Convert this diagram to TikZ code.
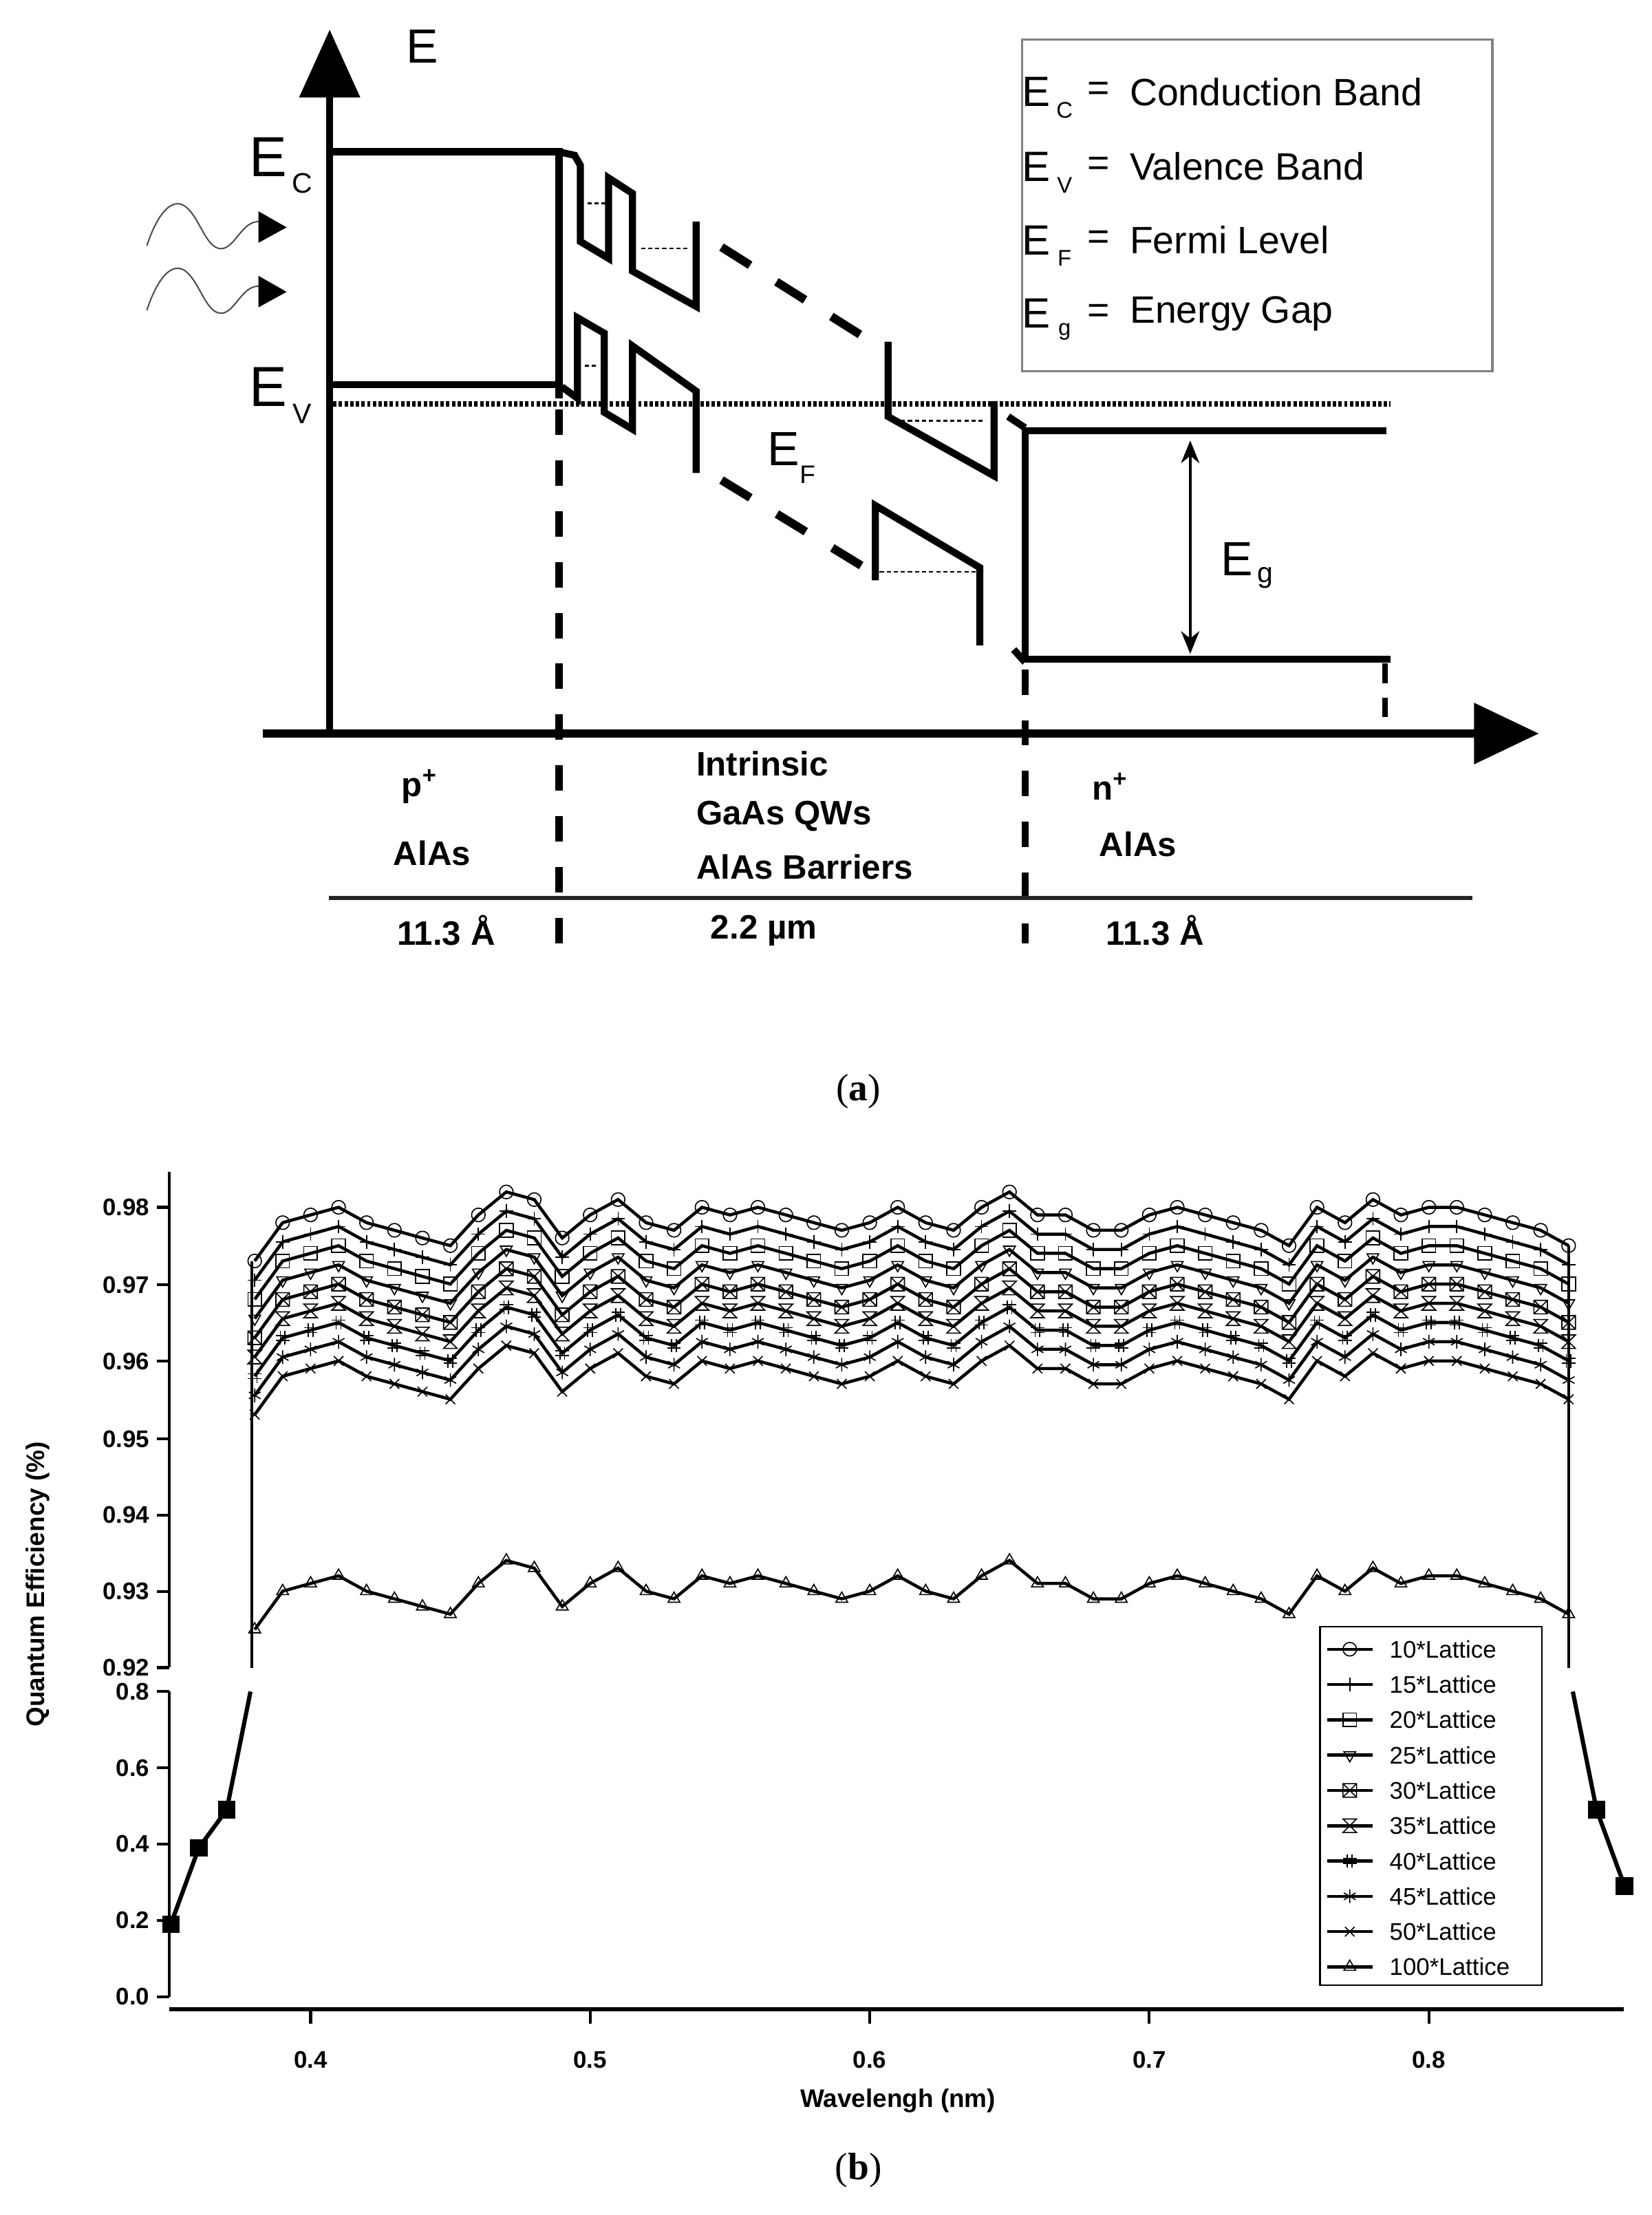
\documentclass[tikz,border=0pt]{standalone}
\usepackage{fontspec}
\setmainfont{Liberation Sans}
\newfontfamily\serifb{Liberation Serif}
\usetikzlibrary{plotmarks,arrows.meta}
\newcommand\fsz[1]{\fontsize{#1}{#1}\selectfont}
\pgfdeclareplotmark{boxx}{%
  \pgfpathrectangle{\pgfpoint{-\pgfplotmarksize}{-\pgfplotmarksize}}{\pgfpoint{2\pgfplotmarksize}{2\pgfplotmarksize}}%
  \pgfpathmoveto{\pgfpoint{-\pgfplotmarksize}{-\pgfplotmarksize}}\pgfpathlineto{\pgfpoint{\pgfplotmarksize}{\pgfplotmarksize}}%
  \pgfpathmoveto{\pgfpoint{-\pgfplotmarksize}{\pgfplotmarksize}}\pgfpathlineto{\pgfpoint{\pgfplotmarksize}{-\pgfplotmarksize}}%
  \pgfusepathqstroke}
\pgfdeclareplotmark{hglass}{%
  \pgfpathmoveto{\pgfpoint{-\pgfplotmarksize}{\pgfplotmarksize}}\pgfpathlineto{\pgfpoint{\pgfplotmarksize}{\pgfplotmarksize}}%
  \pgfpathlineto{\pgfpoint{-\pgfplotmarksize}{-\pgfplotmarksize}}\pgfpathlineto{\pgfpoint{\pgfplotmarksize}{-\pgfplotmarksize}}\pgfpathclose
  \pgfusepathqstroke}
\pgfdeclareplotmark{hashm}{%
  \pgfpathmoveto{\pgfpoint{-0.35\pgfplotmarksize}{-\pgfplotmarksize}}\pgfpathlineto{\pgfpoint{-0.35\pgfplotmarksize}{\pgfplotmarksize}}%
  \pgfpathmoveto{\pgfpoint{0.35\pgfplotmarksize}{-\pgfplotmarksize}}\pgfpathlineto{\pgfpoint{0.35\pgfplotmarksize}{\pgfplotmarksize}}%
  \pgfpathmoveto{\pgfpoint{-\pgfplotmarksize}{-0.35\pgfplotmarksize}}\pgfpathlineto{\pgfpoint{\pgfplotmarksize}{-0.35\pgfplotmarksize}}%
  \pgfpathmoveto{\pgfpoint{-\pgfplotmarksize}{0.35\pgfplotmarksize}}\pgfpathlineto{\pgfpoint{\pgfplotmarksize}{0.35\pgfplotmarksize}}%
  \pgfusepathqstroke}
\newcommand\qecurve[2]{\begin{scope}[yshift=#2]\draw[curve,#1] plot coordinates {(0.38,0.973) (0.39,0.978) (0.40,0.979) (0.41,0.980) (0.42,0.978) (0.43,0.977) (0.44,0.976) (0.45,0.975) (0.46,0.979) (0.47,0.982) (0.48,0.981) (0.49,0.976) (0.50,0.979) (0.51,0.981) (0.52,0.978) (0.53,0.977) (0.54,0.980) (0.55,0.979) (0.56,0.980) (0.57,0.979) (0.58,0.978) (0.59,0.977) (0.60,0.978) (0.61,0.980) (0.62,0.978) (0.63,0.977) (0.64,0.980) (0.65,0.982) (0.66,0.979) (0.67,0.979) (0.68,0.977) (0.69,0.977) (0.70,0.979) (0.71,0.980) (0.72,0.979) (0.73,0.978) (0.74,0.977) (0.75,0.975) (0.76,0.980) (0.77,0.978) (0.78,0.981) (0.79,0.979) (0.80,0.980) (0.81,0.980) (0.82,0.979) (0.83,0.978) (0.84,0.977) (0.85,0.975)};\end{scope}}
\newcommand\legrow[3]{\draw[line width=2.2pt] (940,1168+25*#1) -- (972,1168+25*#1);
  \path[curve,#2] plot coordinates {(956,1168+25*#1)};
  \node[ent] at (984,1168+25*#1) {#3};}
\begin{document}
\begin{tikzpicture}[x=1pt,y=-1pt,
  band/.style={line width=5pt,line join=miter},
  dashb/.style={line width=6pt,dash pattern=on 24pt off 22pt},
  dvert/.style={line width=5pt,dash pattern=on 18pt off 18pt},
  thind/.style={line width=1.2pt,dash pattern=on 3pt off 2pt},
  lbl/.style={font=\fsz{24}\bfseries,inner sep=0pt},
  leg/.style={font=\fsz{27},inner sep=0pt,anchor=west},
  curve/.style={line width=2.2pt,mark size=4.8pt},
  mk/.style={mark options={solid,line width=0.8pt,#1}},
  tk/.style={font=\fsz{17}\bfseries,inner sep=0pt},
  ent/.style={font=\fsz{17},inner sep=0pt,anchor=west}]
\useasboundingbox (0,0) rectangle (1170,1568.7);
% ---------------- (a) ----------------
\coordinate (eb) at (233.5,522); \coordinate (et) at (233.5,21);
\draw[line width=5pt,-{Triangle[length=48pt,width=42pt]}] (eb) -- (et);
\coordinate (xb) at (186,519.5); \coordinate (xt) at (1090,519.5);
\draw[line width=6pt,-{Triangle[length=46pt,width=42pt]}] (xb) -- (xt);
\node[font=\fsz{34},inner sep=0pt] (Elab) at (299,33) {E};
\node[font=\fsz{40},inner sep=0pt] (Ec) at (190,111) {E};
\node[font=\fsz{20},inner sep=0pt] (Ecs) at (214,130) {C};
\node[font=\fsz{40},inner sep=0pt] (Ev) at (190,274) {E};
\node[font=\fsz{20},inner sep=0pt] (Evs) at (214,293) {V};
% photons
\draw[gray!60!black,line width=1pt] (104,174) .. controls (112,150) and (122,140) .. (131,146) .. controls (142,154) and (146,178) .. (158,176) .. controls (167,174) and (172,156) .. (184,157);
\fill (183,149.6) -- (203,161) -- (183,172) -- cycle;
\begin{scope}[yshift=-45.7pt]
\draw[gray!60!black,line width=1pt] (104,174) .. controls (112,150) and (122,140) .. (131,146) .. controls (142,154) and (146,178) .. (158,176) .. controls (167,174) and (172,156) .. (184,157);
\fill (183,149.6) -- (203,161) -- (183,172) -- cycle;
\end{scope}
% p region
\draw[band] (233,107.5) -- (396,107.5) -- (396,282);
\draw[band] (233,272.5) -- (396,272.5);
% conduction QWs
\draw[band] (398,108) -- (407,110) -- (411,117) -- (411,171) -- (431,183) -- (431,126) -- (448,137) -- (448,192) -- (493,217) -- (493,157);
\draw[thind] (416,144) -- (433,144);
\draw[thind] (454,176) -- (489,176);
\draw[dashb] (511,175) -- (614,240);
\draw[band] (629,242) -- (629,295) -- (704,337) -- (704,284);
\draw[thind] (633,298) -- (698,298);
\draw[band] (714,295) -- (726,303);
\draw[band] (726,305) -- (982,305);
\draw[band] (726,303) -- (726,469);
\draw[band] (726,467) -- (985,467);
\draw[band] (718,460) -- (726,469);
% valence QWs
\draw[band] (398,274) -- (409,282) -- (409,225) -- (428,236) -- (428,292) -- (448,304) -- (448,245) -- (493,277) -- (493,335);
\draw[thind] (414,259) -- (424,259);
\draw[dashb] (511,340) -- (614,403);
\draw[band] (620,411) -- (620,358) -- (694,402) -- (694,457);
\draw[thind] (623,405) -- (692,405);
% Fermi level
\draw[line width=4pt,dash pattern=on 2.4pt off 1.6pt] (236,286) -- (985,286);
\node[font=\fsz{34},inner sep=0pt] (Ef) at (555,318) {E};
\node[font=\fsz{18},inner sep=0pt] (Efs) at (572,336) {F};
% Eg
\coordinate (g1) at (843,312); \coordinate (g2) at (843,463);
\draw[line width=2pt,{Stealth[length=16pt,width=13pt]}-{Stealth[length=16pt,width=13pt]}] (g1) -- (g2);
\node[font=\fsz{34},inner sep=0pt] (Eg) at (876,396) {E};
\node[font=\fsz{20},inner sep=0pt] (Egs) at (896,409) {g};
% dashed verticals
\draw[dvert] (396,290) -- (396,670);
\draw[dvert] (726,474) -- (726,668);
\draw[line width=4pt,dash pattern=on 14pt off 10pt] (981,470) -- (981,521);
% bottom line and labels
\draw[line width=3pt,black!85] (233,636) -- (1043,636);
\node[lbl] (p) at (297,557) {p\textsuperscript{+}};
\node[lbl] (al1) at (306,604) {AlAs};
\node[lbl,anchor=west] (in1) at (493,541) {Intrinsic};
\node[lbl,anchor=west] (in2) at (493,578) {GaAs QWs};
\node[lbl,anchor=west] (in3) at (493,614) {AlAs Barriers};
\node[lbl] (n) at (786,557) {n\textsuperscript{+}};
\node[lbl] (al2) at (806,598) {AlAs};
\node[lbl] (t1) at (316,659) {11.3 Å};
\node[lbl] (t2) at (541,659) {2.2 µm};
\node[lbl] (t3) at (818,659) {11.3 Å};
% legend box
\draw[gray,line width=1.5pt] (724,28) rectangle (1057,263);
\foreach \yy/\s/\t in {65/C/Conduction Band,118/V/Valence Band,170/F/Fermi Level,222/g/Energy Gap}{
  \node[font=\fsz{30},inner sep=0pt] at (734,\yy) {E};
  \node[font=\fsz{16},inner sep=0pt] at (754,\yy+13) {\s};
  \node[font=\fsz{27},inner sep=0pt] at (778,\yy) {=};
  \node[leg] at (800,\yy) {\t};
}
\node[font=\serifb\fsz{27},inner sep=0pt] (la) at (608,773) {(\textbf{a})};
% ---------------- (b) ----------------
\draw[line width=2pt] (120,830) -- (120,1181);
\foreach \v/\yy in {0.98/855,0.97/910,0.96/964,0.95/1019,0.94/1073,0.93/1127,0.92/1181}{
  \draw[line width=2pt] (111,\yy) -- (120,\yy);
  \node[tk,anchor=east] at (106,\yy) {\v};
}
\draw[line width=2pt] (120,1198) -- (120,1414);
\foreach \v/\yy in {0.8/1198,0.6/1252,0.4/1306,0.2/1360,0.0/1414}{
  \draw[line width=2pt] (111,\yy) -- (120,\yy);
  \node[tk,anchor=east] at (106,\yy) {\v};
}
\draw[line width=2.5pt] (120,1423) -- (1150,1423);
\foreach \v/\xx in {0.4/220,0.5/418,0.6/616,0.7/814,0.8/1012}{
  \draw[line width=2pt] (\xx,1423) -- (\xx,1433);
  \node[tk] at (\xx,1459) {\v};
}
\node[font=\fsz{18}\bfseries,inner sep=0pt,rotate=90] (yl) at (27,1122) {Quantum Efficiency (\%)};
\node[font=\fsz{18}\bfseries,inner sep=0pt] (xl) at (636,1488) {Wavelengh (nm)};
\begin{scope}[x=1980pt,y=5440pt,shift={(-572pt,-6186.2pt)}]
  \draw[line width=2pt] (0.379,0.973) -- (0.379,0.92);
  \draw[line width=2pt] (0.85,0.975) -- (0.85,0.92);
  \qecurve{mark=o,mk}{0pt}
  \qecurve{mark=+,mk}{-13.6pt}
  \qecurve{mark=square,mk}{-27.2pt}
  \qecurve{mark=triangle,mk={rotate=180}}{-40.8pt}
  \qecurve{mark=boxx,mk}{-54.4pt}
  \qecurve{mark=hglass,mk}{-68pt}
  \qecurve{mark=hashm,mk}{-81.6pt}
  \qecurve{mark=asterisk,mk}{-95.2pt}
  \qecurve{mark=x,mk}{-108.8pt}
  \qecurve{mark=triangle,mk}{-261pt}
\end{scope}
\begin{scope}[x=1980pt,y=270pt,shift={(-572pt,-1414pt)}]
  \draw[line width=3pt] (0.35,0.19) -- (0.36,0.39) -- (0.37,0.49) -- (0.3785,0.8);
  \draw[line width=3pt] (0.8515,0.8) -- (0.86,0.49) -- (0.87,0.29);
  \path[mark=square*,mark size=6pt] plot coordinates {(0.35,0.19) (0.36,0.39) (0.37,0.49) (0.86,0.49) (0.87,0.29)};
\end{scope}
% legend
\draw[line width=1.2pt,fill=white] (935,1152) rectangle (1092,1406);
\legrow{0}{mark=o,mk}{10*Lattice}
\legrow{1}{mark=+,mk}{15*Lattice}
\legrow{2}{mark=square,mk}{20*Lattice}
\legrow{3}{mark=triangle,mk={rotate=180}}{25*Lattice}
\legrow{4}{mark=boxx,mk}{30*Lattice}
\legrow{5}{mark=hglass,mk}{35*Lattice}
\legrow{6}{mark=hashm,mk}{40*Lattice}
\legrow{7}{mark=asterisk,mk}{45*Lattice}
\legrow{8}{mark=x,mk}{50*Lattice}
\legrow{9}{mark=triangle,mk}{100*Lattice}
\node[font=\serifb\fsz{27},inner sep=0pt] (lb) at (608,1537) {(\textbf{b})};
\end{tikzpicture}
\end{document}
